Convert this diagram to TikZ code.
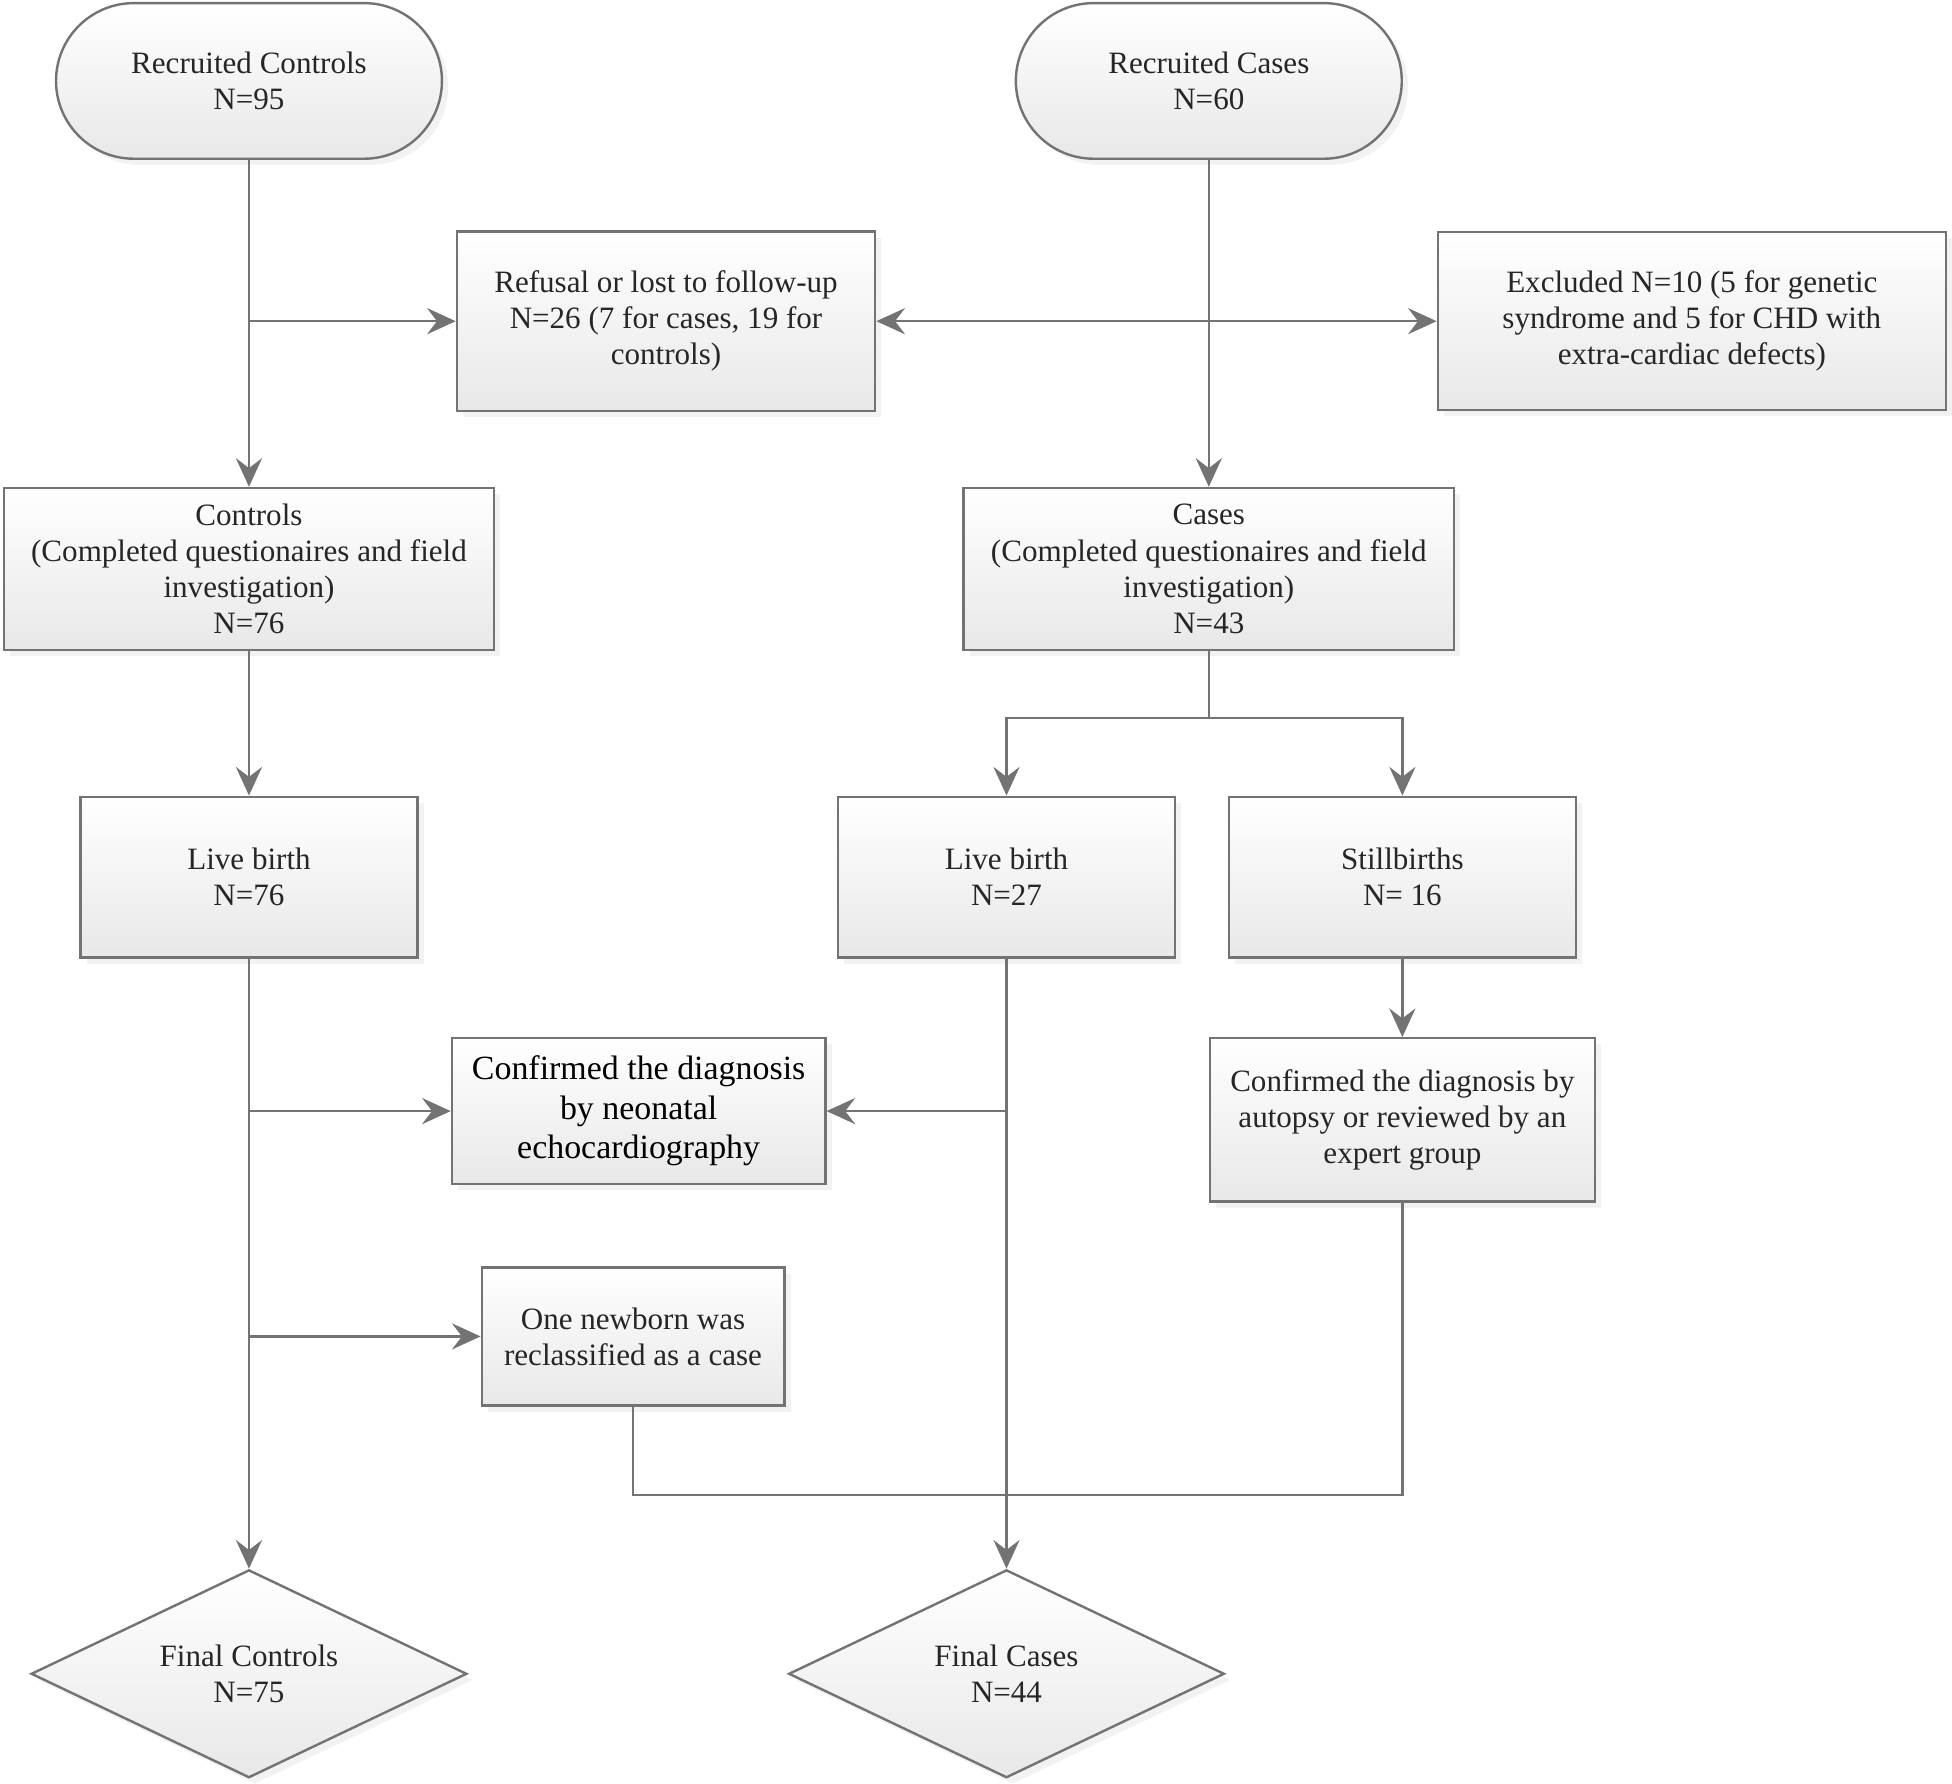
\documentclass[tikz,border=0pt]{standalone}
\usepackage{fontspec}
\setmainfont{Liberation Serif}
\usetikzlibrary{arrows.meta,shapes.geometric,shadows}
\tikzset{
  box/.style={draw=black!55, line width=1.1pt, top color=white, bottom color=black!9,
    drop shadow={shadow xshift=1mm, shadow yshift=-1mm, fill=black!10},
    align=center, text=black!85, inner sep=0pt,
    font=\fontsize{14.2}{16.5}\selectfont},
  stadium/.style={box, rectangle, rounded corners=1.25cm, minimum width=6.2cm, minimum height=2.5cm},
  final/.style={box, diamond, aspect=2.1, minimum width=7cm, minimum height=3.34cm},
  link/.style={draw=black!55, line width=1.1pt},
  flow/.style={link, -{Stealth[length=4.6mm,width=4.2mm,inset=1.6mm]}}
}
\begin{document}
\begin{tikzpicture}
  \useasboundingbox (0,0) rectangle (31.36,-28.66);
  \node[stadium] (rc) at (4.0,-1.3) {Recruited Controls\\N=95};
  \node[stadium] (rcs) at (19.42,-1.3) {Recruited Cases\\N=60};
  \node[box, minimum width=6.72cm, minimum height=2.88cm] (refusal) at (10.7,-5.16)
    {Refusal or lost to follow-up\\N=26 (7 for cases, 19 for\\controls)};
  \node[box, minimum width=8.16cm, minimum height=2.86cm] (excluded) at (27.18,-5.16)
    {Excluded N=10 (5 for genetic\\syndrome and 5 for CHD with\\extra-cardiac defects)};
  \node[box, minimum width=7.88cm, minimum height=2.6cm] (ctrl) at (4.0,-9.14)
    {Controls\\(Completed questionaires and field\\investigation)\\N=76};
  \node[box, minimum width=7.88cm, minimum height=2.6cm] (cases) at (19.42,-9.14)
    {Cases\\(Completed questionaires and field\\investigation)\\N=43};
  \node[box, minimum width=5.42cm, minimum height=2.58cm] (lbc) at (4.0,-14.09) {Live birth\\N=76};
  \node[box, minimum width=5.42cm, minimum height=2.58cm] (lbk) at (16.17,-14.09) {Live birth\\N=27};
  \node[box, minimum width=5.58cm, minimum height=2.58cm] (still) at (22.53,-14.09) {Stillbirths\\N= 16};
  \node[box, minimum width=6.0cm, minimum height=2.34cm, text=black,
    font=\fontsize{15.5}{18}\selectfont] (echo) at (10.26,-17.85)
    {Confirmed the diagnosis\\by neonatal\\echocardiography};
  \node[box, minimum width=6.18cm, minimum height=2.62cm] (autopsy) at (22.53,-17.99)
    {Confirmed the diagnosis by\\autopsy or reviewed by an\\expert group};
  \node[box, minimum width=4.86cm, minimum height=2.22cm] (newborn) at (10.17,-21.47)
    {One newborn was\\reclassified as a case};
  \node[final] (fctrl) at (4.0,-26.89) {Final Controls\\N=75};
  \node[final] (fcase) at (16.17,-26.89) {Final Cases\\N=44};
  \coordinate (merge) at (16.17,-24.02);

  \draw[flow] (rc.south) -- (ctrl.north);
  \draw[flow] (rc.south |- refusal.west) -- (refusal.west);
  \draw[flow] (rcs.south) -- (cases.north);
  \draw[flow] (rcs.south |- refusal.east) -- (refusal.east);
  \draw[flow] (rcs.south |- excluded.west) -- (excluded.west);
  \draw[flow] (ctrl.south) -- (lbc.north);
  \draw[flow] (cases.south) -- ++(0,-1.08) -| (lbk.north);
  \draw[flow] (cases.south) -- ++(0,-1.08) -| (still.north);
  \draw[flow] (lbc.south) -- (fctrl.north);
  \draw[flow] (lbc.south |- echo.west) -- (echo.west);
  \draw[flow] (lbc.south |- newborn.west) -- (newborn.west);
  \draw[flow] (lbk.south) -- (fcase.north);
  \draw[flow] (lbk.south |- echo.east) -- (echo.east);
  \draw[flow] (still.south) -- (autopsy.north);
  \draw[link] (newborn.south) |- (merge) -| (autopsy.south);
\end{tikzpicture}
\end{document}
